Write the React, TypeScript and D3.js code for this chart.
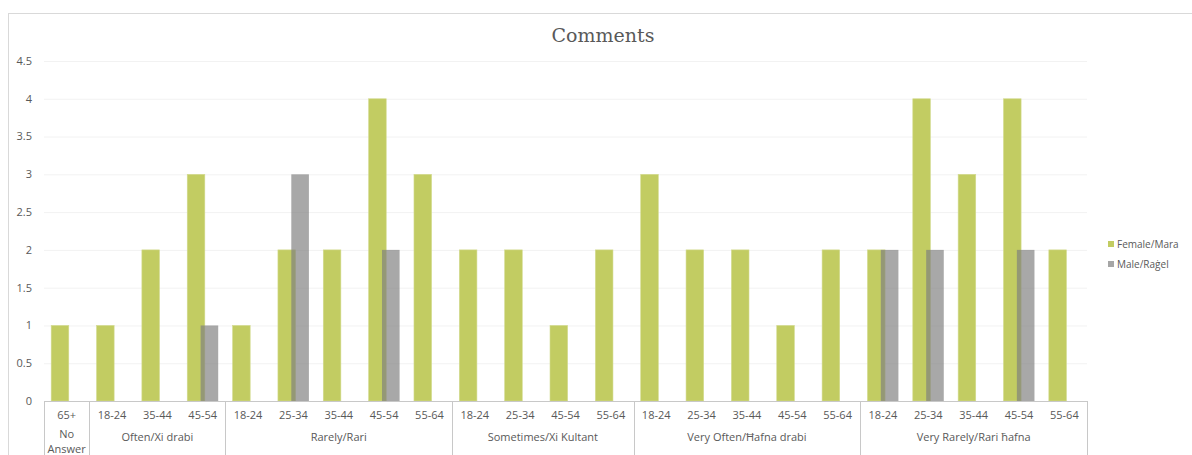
import React from "react";
import * as d3 from "d3";

const groups = [
  "No Answer",
  "Often/Xi drabi",
  "Rarely/Rari",
  "Sometimes/Xi Kultant",
  "Very Often/Ħafna drabi",
  "Very Rarely/Rari ħafna",
];
const ageLabels = [
  ["65+"],
  ["18-24", "35-44", "45-54"],
  ["18-24", "25-34", "35-44", "45-54", "55-64"],
  ["18-24", "25-34", "45-54", "55-64"],
  ["18-24", "25-34", "35-44", "45-54", "55-64"],
  ["18-24", "25-34", "35-44", "45-54", "55-64"],
];
const femaleValues = [
  [1],
  [1, 2, 3],
  [1, 2, 2, 4, 3],
  [2, 2, 1, 2],
  [3, 2, 2, 1, 2],
  [2, 4, 3, 4, 2],
];
const maleValues = [
  [0],
  [0, 0, 1],
  [0, 3, 0, 2, 0],
  [0, 0, 0, 0],
  [0, 0, 0, 0, 0],
  [2, 2, 0, 2, 0],
];
const yTicks = [0, 0.5, 1, 1.5, 2, 2.5, 3, 3.5, 4, 4.5];
const seriesNames = ["Female/Mara", "Male/Raġel"];

const GREEN = "#c2cc62";
const GRAY = "#7f7f7f";
const TEXT = "#595959";
const FONT = "'Open Sans', sans-serif";

export default function App() {
  const W = 1192;
  const H = 455;
  const left = 44;
  const right = 1087;
  const y0 = 401;
  const yTop = 61;

  const flat: { g: number; label: string; f: number; m: number; key: string }[] = [];
  groups.forEach((_, gi) => {
    ageLabels[gi].forEach((a, ai) => {
      flat.push({ g: gi, label: a, f: femaleValues[gi][ai], m: maleValues[gi][ai], key: `${gi}-${ai}` });
    });
  });

  const x = d3.scaleBand<string>().domain(flat.map((d) => d.key)).range([left, right]).padding(0);
  const y = d3.scaleLinear().domain([0, 4.5]).range([y0, yTop]);
  const bw = x.bandwidth();
  const barW = bw * 0.388;
  const overlap = barW * 0.24;
  const pairW = barW * 2 - overlap;

  const boundaries: number[] = [left];
  let idx = 0;
  const groupSpans: { start: number; end: number; name: string }[] = [];
  groups.forEach((name, gi) => {
    const start = x(flat[idx].key)!;
    idx += ageLabels[gi].length;
    const end = idx < flat.length ? x(flat[idx].key)! : right;
    boundaries.push(end);
    groupSpans.push({ start, end, name });
  });

  return (
    <div style={{ position: "fixed", left: 0, top: 0, width: W, height: H, overflow: "hidden", background: "#fff" }}>
      <svg width={W} height={H} style={{ display: "block" }}>
        <rect x={8.5} y={13.5} width={W + 20} height={H + 20} fill="#fff" stroke="#d9d9d9" strokeWidth={1} />
        <text x={603} y={42} textAnchor="middle" fontFamily="'DejaVu Serif', serif" fontSize={19} fill={TEXT}>
          Comments
        </text>
        {yTicks.map((t) => (
          <g key={t}>
            {t > 0 && <line x1={left} x2={right} y1={y(t) + 0.5} y2={y(t) + 0.5} stroke="#f2f2f2" strokeWidth={1} />}
            <text x={32} y={y(t)} dy="0.35em" textAnchor="end" fontFamily={FONT} fontSize={11} fill={TEXT}>
              {t}
            </text>
          </g>
        ))}
        {flat.map((d) => {
          const cx = x(d.key)! + bw / 2;
          const fx = cx - pairW / 2;
          const mx = fx + barW - overlap;
          return (
            <g key={d.key}>
              {d.f > 0 && (
                <rect x={fx} y={y(d.f)} width={barW} height={y0 - y(d.f)} fill={GREEN} stroke="#d3db8f" strokeWidth={0.6} />
              )}
              {d.m > 0 && (
                <rect x={mx} y={y(d.m)} width={barW} height={y0 - y(d.m)} fill={GRAY} fillOpacity={0.68} />
              )}
            </g>
          );
        })}
        <line x1={left} x2={right} y1={y0 + 0.5} y2={y0 + 0.5} stroke="#c8c8c8" strokeWidth={1} />
        {boundaries.map((b, i) => (
          <line key={i} x1={Math.round(b) + 0.5} x2={Math.round(b) + 0.5} y1={y0} y2={H + 5} stroke="#c8c8c8" strokeWidth={1} />
        ))}
        {flat.map((d) => (
          <text key={d.key} x={x(d.key)! + bw / 2} y={419} textAnchor="middle" fontFamily={FONT} fontSize={11} fill={TEXT}>
            {d.label}
          </text>
        ))}
        {groupSpans.map((s, i) => {
          const cx = (s.start + s.end) / 2;
          if (s.name === "No Answer") {
            const parts = s.name.split(" ");
            return (
              <g key={i}>
                <text x={cx} y={438} textAnchor="middle" fontFamily={FONT} fontSize={11} fill={TEXT}>
                  {parts[0]}
                </text>
                <text x={cx} y={453} textAnchor="middle" fontFamily={FONT} fontSize={11} fill={TEXT}>
                  {parts[1]}
                </text>
              </g>
            );
          }
          return (
            <text key={i} x={cx} y={441} textAnchor="middle" fontFamily={FONT} fontSize={11} fill={TEXT}>
              {s.name}
            </text>
          );
        })}
        {seriesNames.map((n, i) => (
          <g key={n}>
            <rect x={1108} y={241 + i * 20} width={6} height={6} fill={i === 0 ? GREEN : "#a6a6a6"} />
            <text x={1117} y={244 + i * 20} dy="0.35em" fontFamily={FONT} fontSize={10} fill={TEXT}>
              {n}
            </text>
          </g>
        ))}
      </svg>
    </div>
  );
}
